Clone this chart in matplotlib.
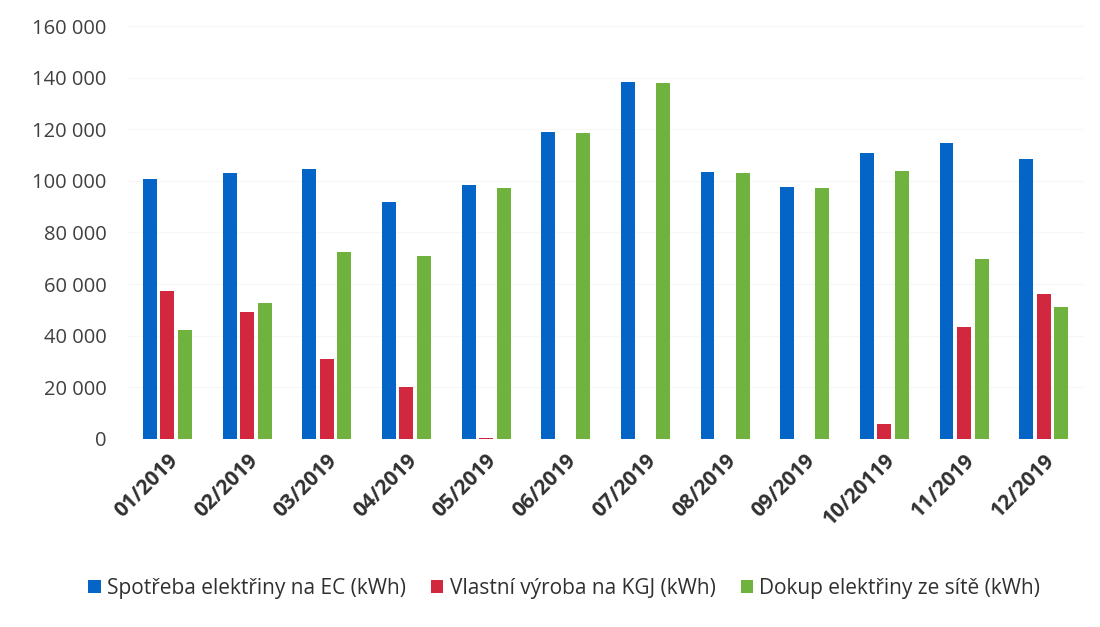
import matplotlib.pyplot as plt
import numpy as np
from matplotlib.ticker import FuncFormatter

months = ["01/2019", "02/2019", "03/2019", "04/2019", "05/2019", "06/2019",
          "07/2019", "08/2019", "09/2019", "10/20119", "11/2019", "12/2019"]
spotreba = [100600, 102900, 104400, 91700, 98200, 118800,
            138500, 103300, 97500, 110600, 114500, 108300]
vyroba = [57200, 49100, 31000, 20100, 500, 0,
          0, 0, 0, 5800, 43300, 56100]
dokup = [42200, 52600, 72300, 70800, 97100, 118400,
         138100, 102900, 97100, 103700, 69600, 51000]

labels = ["Spotřeba elektřiny na EC (kWh)", "Vlastní výroba na KGJ (kWh)",
          "Dokup elektřiny ze sítě (kWh)"]
colors = ["#0565c6", "#d2283f", "#70b23e"]

plt.rcParams['font.family'] = ['Open Sans', 'DejaVu Sans']

fig = plt.figure(figsize=(11, 6.27), dpi=100)
ax = fig.add_axes([0.116, 0.300, 0.869, 0.6585])

x = np.arange(len(months))
w = 0.175
off = 0.22
for i, (vals, lab, col) in enumerate(zip([spotreba, vyroba, dokup], labels, colors)):
    ax.bar(x + (i - 1) * off, vals, width=w, color=col, label=lab, zorder=3)

ax.set_xlim(-0.5, len(months) - 0.5)
ax.set_ylim(0, 160000)
ax.set_yticks(np.arange(0, 160001, 20000))
ax.yaxis.set_major_formatter(FuncFormatter(lambda v, p: f"{int(v):,}".replace(",", " ")))
ax.grid(axis='y', color='#f7f7f7', linewidth=0.8, zorder=0)
for s in ax.spines.values():
    s.set_visible(False)
ax.tick_params(axis='both', length=0)
ax.tick_params(axis='y', labelsize=14.5, labelcolor='#404040', pad=15)

ax.set_xticks(x)
ax.set_xticklabels(months, rotation=45, ha='right', rotation_mode='anchor',
                   fontsize=15, fontweight='bold', color='#303030')
ax.tick_params(axis='x', pad=8)

fig.legend(loc='center', bbox_to_anchor=(0.513, 0.062), ncol=3, frameon=False,
           fontsize=15, handlelength=0.6, handleheight=0.6, handletextpad=0.3,
           columnspacing=1.2, labelcolor='#303030')

plt.savefig('out.png')
